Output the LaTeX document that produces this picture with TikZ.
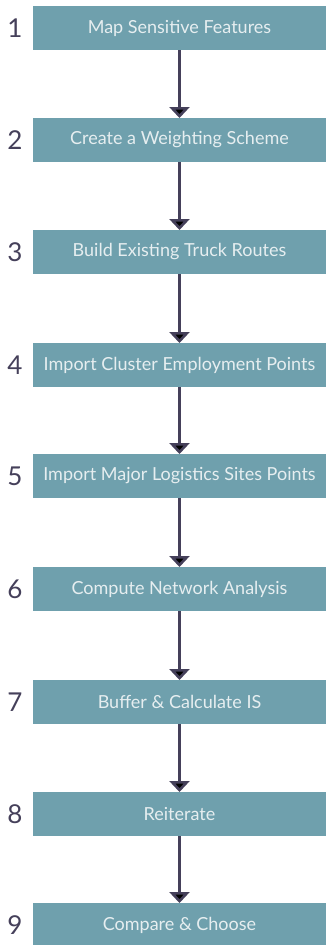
\documentclass[tikz,border=0pt]{standalone}
\usepackage{fontspec}
\setmainfont{Lato}
\usetikzlibrary{arrows.meta}

\definecolor{stepteal}{HTML}{6FA0AD}
\definecolor{steptext}{HTML}{E6EEF0}
\definecolor{flowdark}{HTML}{45405A}

\tikzstyle{stepbox} = [fill=stepteal, rectangle, minimum width=293pt, minimum height=44pt,
                       inner sep=2pt, outer sep=0pt, text=steptext, font=\fontsize{18}{18}\selectfont]
\tikzstyle{stepnum} = [text=flowdark, font=\fontsize{26}{26}\selectfont]
\tikzstyle{flow}    = [-{Triangle[width=20pt,length=11pt]}, line width=2.6pt, draw=flowdark]

\begin{document}
\begin{tikzpicture}[x=1pt,y=-1pt]
  \useasboundingbox (0,0) rectangle (326,945);
  \node at (179.5,28)  (s1) [stepbox] {Map Sensitive Features};
  \node at (179.5,140) (s2) [stepbox] {Create a Weighting Scheme};
  \node at (179.5,252) (s3) [stepbox] {Build Existing Truck Routes};
  \node at (179.5,365) (s4) [stepbox] {Import Cluster Employment Points};
  \node at (179.5,476) (s5) [stepbox] {Import Major Logistics Sites Points};
  \node at (179.5,589) (s6) [stepbox] {Compute Network Analysis};
  \node at (179.5,702) (s7) [stepbox] {Buffer \& Calculate IS};
  \node at (179.5,814) (s8) [stepbox] {Reiterate};
  \node at (179.5,925) (s9) [stepbox] {Compare \& Choose};
  \node at (15,28)  (n1) [stepnum] {1};
  \node at (15,140) (n2) [stepnum] {2};
  \node at (15,252) (n3) [stepnum] {3};
  \node at (15,365) (n4) [stepnum] {4};
  \node at (15,476) (n5) [stepnum] {5};
  \node at (15,589) (n6) [stepnum] {6};
  \node at (15,702) (n7) [stepnum] {7};
  \node at (15,814) (n8) [stepnum] {8};
  \node at (15,925) (n9) [stepnum] {9};
  \path[flow] (s1) edge (s2)
              (s2) edge (s3)
              (s3) edge (s4)
              (s4) edge (s5)
              (s5) edge (s6)
              (s6) edge (s7)
              (s7) edge (s8)
              (s8) edge (s9);
\end{tikzpicture}
\end{document}
